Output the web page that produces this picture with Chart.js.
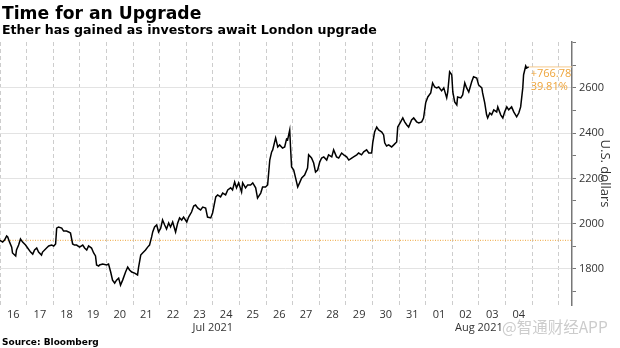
<!DOCTYPE html>
<html><head><meta charset="utf-8">
<script src="https://cdn.jsdelivr.net/npm/chart.js@4.4.0/dist/chart.umd.min.js"></script>
<style>html,body{margin:0;padding:0;background:#fff;}#wrap{width:620px;height:348px;position:relative;}canvas{display:block;}</style>
</head><body><div id="wrap"><canvas id="c" width="620" height="348"></canvas></div>
<script>
const titleText = 'Time for an Upgrade';
const subtitleText = 'Ether has gained as investors await London upgrade';
const sourceText = 'Source: Bloomberg';
const watermarkText = '@智通财经APP';
const yAxisTitle = 'U.S. dollars';
// tick labels for each day start (days since Jul 16 2021 00:00)
const dayLabels = ['16','17','18','19','20','21','22','23','24','25','26','27','28','29','30','31','01','02','03','04'];
const monthLabels = ['Jul 2021','Aug 2021'];
const monthLabelDays = [8, 18];
// time in days since Jul 16 2021 00:00
const dayOffsets = [0.00,0.10,0.17,0.25,0.29,0.36,0.44,0.47,0.59,0.62,
0.70,0.77,0.85,0.96,1.04,1.15,1.23,1.30,1.38,1.45,
1.56,1.60,1.75,1.83,1.94,2.02,2.09,2.13,2.20,2.32,
2.39,2.50,2.58,2.65,2.73,2.80,2.88,2.99,3.11,3.18,
3.26,3.33,3.44,3.52,3.59,3.63,3.71,3.74,3.86,4.01,
4.08,4.16,4.23,4.31,4.38,4.46,4.53,4.61,4.72,4.80,
4.87,4.95,5.06,5.17,5.21,5.29,5.36,5.47,5.55,5.62,
5.70,5.74,5.81,5.89,5.96,6.04,6.11,6.19,6.26,6.34,
6.41,6.49,6.60,6.68,6.75,6.83,6.90,7.02,7.09,7.20,
7.28,7.35,7.43,7.54,7.62,7.73,7.80,7.92,7.99,8.11,
8.18,8.29,8.37,8.48,8.56,8.67,8.74,8.82,8.89,8.97,
9.08,9.12,9.23,9.31,9.42,9.50,9.61,9.68,9.80,9.87,
9.98,10.06,10.14,10.21,10.25,10.36,10.44,10.51,10.62,10.70,
10.77,10.81,10.89,10.92,10.96,11.04,11.11,11.19,11.26,11.34,
11.45,11.56,11.60,11.71,11.79,11.86,11.94,12.02,12.09,12.17,
12.28,12.35,12.47,12.54,12.65,12.73,12.84,12.92,13.03,13.11,
13.22,13.29,13.41,13.48,13.59,13.67,13.78,13.86,13.97,14.01,
14.08,14.16,14.23,14.35,14.42,14.46,14.53,14.61,14.72,14.80,
14.91,14.95,15.06,15.14,15.21,15.29,15.36,15.47,15.55,15.66,
15.74,15.85,15.92,16.00,16.08,16.19,16.26,16.34,16.41,16.49,
16.60,16.68,16.79,16.83,16.90,16.98,17.02,17.09,17.17,17.20,
17.32,17.39,17.47,17.54,17.62,17.73,17.80,17.92,17.99,18.11,
18.14,18.22,18.29,18.33,18.41,18.48,18.56,18.67,18.71,18.82,
18.90,18.97,19.05,19.12,19.23,19.31,19.42,19.50,19.57,19.65,
19.68,19.76,19.80,19.87];
const prices = [1926.02,1918,1927,1945,1941,1918,1896,1870,1857,1883,
1905,1932,1918,1905,1892,1874,1865,1883,1892,1874,
1861,1874,1892,1901,1905,1901,1910,1980,1985,1980,
1967,1967,1963,1958,1910,1905,1905,1896,1905,1892,
1883,1901,1892,1870,1857,1817,1812,1817,1821,1817,
1821,1786,1750,1737,1750,1759,1728,1750,1786,1808,
1795,1786,1781,1773,1808,1861,1870,1883,1896,1905,
1941,1963,1985,1994,1963,1980,2016,1994,1976,2003,
1985,2007,1963,2003,2025,2016,2029,2007,2029,2051,
2078,2082,2069,2060,2073,2069,2029,2025,2047,2118,
2127,2118,2135,2127,2149,2158,2149,2184,2158,2180,
2140,2180,2158,2171,2171,2180,2158,2113,2135,2162,
2162,2171,2281,2317,2326,2379,2339,2348,2334,2339,
2374,2370,2414,2339,2250,2237,2202,2162,2180,2202,
2215,2246,2304,2290,2268,2228,2237,2273,2290,2295,
2281,2304,2295,2326,2295,2290,2312,2304,2295,2281,
2290,2295,2304,2312,2304,2317,2326,2312,2312,2357,
2405,2427,2414,2405,2392,2357,2343,2348,2339,2348,
2361,2427,2450,2467,2450,2436,2427,2458,2467,2450,
2445,2450,2467,2534,2560,2578,2622,2604,2600,2604,
2587,2600,2556,2582,2671,2658,2582,2538,2525,2560,
2556,2569,2622,2600,2582,2627,2649,2644,2613,2600,
2578,2534,2481,2467,2489,2481,2503,2494,2516,2481,
2467,2494,2516,2503,2516,2494,2472,2489,2516,2600,
2658,2697,2688,2692.80];
const yTicks = [1700,1800,1900,2000,2100,2200,2300,2400,2500,2600,2700,2800];
const yLabelTicks = [1800,2000,2200,2400,2600];
const xMin = 0, xMax = 21.5, yMin = 1640, yMax = 2803;

const ORANGE = '#eea43a';
const tickFont = {family: "'Open Sans', sans-serif", size: 11};

const firstPrice = prices[0];
const lastPrice = prices[prices.length - 1];
const lastDay = dayOffsets[dayOffsets.length - 1];

const textPlugin = {
  id: 'texts',
  afterDraw(chart) {
    const ctx = chart.ctx;
    ctx.save();
    ctx.textAlign = 'left';
    ctx.textBaseline = 'alphabetic';
    ctx.fillStyle = '#000';
    ctx.font = "bold 17.2px 'DejaVu Sans'";
    ctx.fillText(titleText, 2, 18.5);
    ctx.font = "bold 12.6px 'DejaVu Sans'";
    ctx.fillText(subtitleText, 2, 33.5);
    ctx.font = "bold 9px 'DejaVu Sans'";
    ctx.fillText(sourceText, 2, 345);
    ctx.fillStyle = '#cccccc';
    ctx.font = "15.5px 'Noto Sans CJK SC'";
    ctx.fillText(watermarkText, 502, 333);
    // change annotation
    const xs = chart.scales.x, ys = chart.scales.y;
    const px = xs.getPixelForValue(lastDay), py = ys.getPixelForValue(lastPrice);
    const chg = lastPrice - firstPrice;
    const pct = chg / firstPrice * 100;
    ctx.fillStyle = ORANGE;
    ctx.font = "11px 'Open Sans'";
    ctx.textBaseline = 'middle';
    ctx.fillText((chg >= 0 ? '+' : '') + chg.toFixed(2), px + 2, py + 7);
    ctx.fillText(pct.toFixed(2) + '%', px + 2, py + 20);
    ctx.restore();
  }
};

function noSidePad(s) { s.paddingLeft = 0; s.paddingRight = 0; }

new Chart(document.getElementById('c'), {
  type: 'line',
  data: {
    datasets: [
      {
        data: dayOffsets.map((d, i) => ({x: d, y: prices[i]})),
        borderColor: '#000', borderWidth: 1.5, pointRadius: 0, tension: 0, order: 0
      },
      {
        data: [{x: xMin, y: firstPrice}, {x: xMax, y: firstPrice}],
        borderColor: ORANGE, borderWidth: 1, borderDash: [1, 1.5], pointRadius: 0, order: 2
      },
      {
        data: [{x: lastDay, y: lastPrice}, {x: xMax, y: lastPrice}],
        borderColor: '#f5c98c', borderWidth: 1, pointRadius: 0, order: 1
      }
    ]
  },
  options: {
    responsive: false, animation: false, devicePixelRatio: 1,
    layout: {padding: {top: 42, left: 0, right: 0, bottom: 13}},
    plugins: {legend: {display: false}, tooltip: {enabled: false}},
    scales: {
      x: {
        type: 'linear', min: xMin, max: xMax, position: 'bottom', weight: 0,
        afterBuildTicks(s) { const t = []; for (let v = 0; v <= 21; v++) t.push({value: v}); s.ticks = t; },
        afterFit(s) { s.height = 16; noSidePad(s); },
        ticks: {
          callback: (v) => dayLabels[v] !== undefined ? dayLabels[v] : '',
          labelOffset: 13.3, maxRotation: 0, autoSkip: false, padding: 3,
          font: tickFont, color: '#333'
        },
        grid: {color: '#cdcdcd', lineWidth: 1, drawTicks: false},
        border: {display: false, dash: [4, 3]}
      },
      xm: {
        type: 'linear', min: xMin, max: xMax, position: 'bottom', weight: 1,
        afterBuildTicks(s) { s.ticks = monthLabelDays.map(v => ({value: v})); },
        afterFit(s) { s.height = 14; noSidePad(s); },
        ticks: {
          callback: (v, i) => monthLabels[i], maxRotation: 0, autoSkip: false, padding: 0,
          font: tickFont, color: '#333'
        },
        grid: {display: false, drawTicks: false},
        border: {display: false}
      },
      y: {
        type: 'linear', position: 'right', min: yMin, max: yMax,
        afterBuildTicks(s) { s.ticks = yTicks.map(v => ({value: v})); },
        afterFit(s) { s.width = 48; s.paddingTop = 0; s.paddingBottom = 0; },
        ticks: {
          callback: (v) => yLabelTicks.includes(v) ? String(v) : '',
          padding: 3, font: tickFont, color: '#333'
        },
        grid: {
          color: (c) => (c.tick && yLabelTicks.includes(c.tick.value)) ? '#e3e3e3' : 'rgba(0,0,0,0)',
          tickColor: '#777', tickLength: 4, drawTicks: true
        },
        border: {display: true, color: '#777', width: 1.5},
        title: {display: true, text: yAxisTitle, color: '#333', font: {family: "'Open Sans', sans-serif", size: 13}, padding: {top: 7, bottom: 0}}
      }
    }
  },
  plugins: [textPlugin]
});
</script>
</body></html>
